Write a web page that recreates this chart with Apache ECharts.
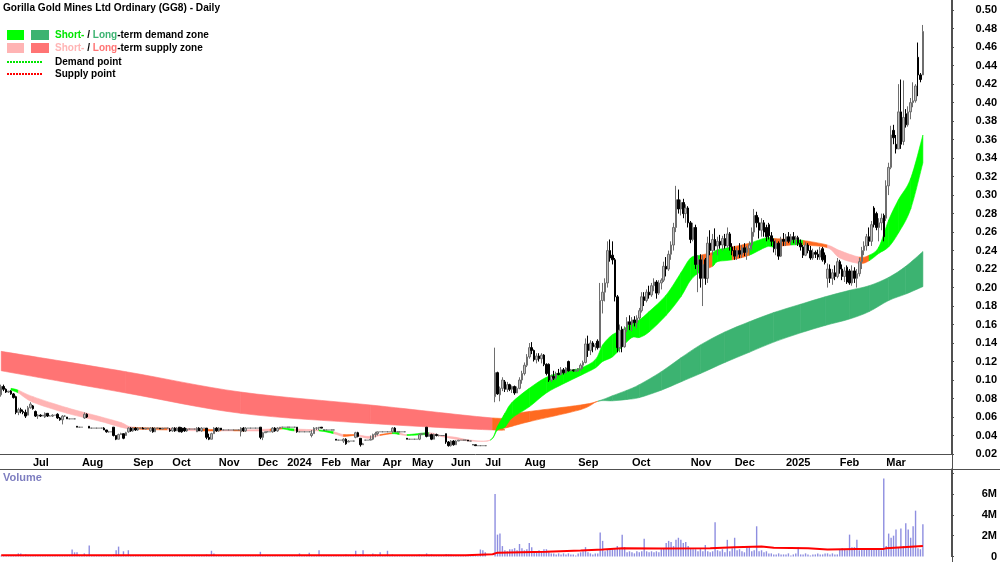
<!DOCTYPE html>
<html><head><meta charset="utf-8">
<script src="https://cdn.jsdelivr.net/npm/echarts@6/dist/echarts.min.js"></script>
<style>html,body{margin:0;padding:0;background:#fff}#c{width:1000px;height:562px}</style>
</head><body><div id="c"></div>
<script>
// ---------- DATA ----------
const title = 'Gorilla Gold Mines Ltd Ordinary (GG8) - Daily';
// month label shown at first bar of each month; bars per month (traded slots)
const monthNames = ['', 'Jul', 'Aug', 'Sep', 'Oct', 'Nov', 'Dec', '2024', 'Feb', 'Mar', 'Apr', 'May', 'Jun', 'Jul', 'Aug', 'Sep', 'Oct', 'Nov', 'Dec', '2025', 'Feb', 'Mar'];
const monthBars  = [13, 20, 21, 16, 19, 16, 12, 14, 12, 13, 12, 16, 14, 16, 22, 22, 24, 18, 21, 22, 19, 27];
const priceTicks = [0.02,0.04,0.06,0.08,0.10,0.12,0.14,0.16,0.18,0.20,0.22,0.24,0.26,0.28,0.30,0.32,0.34,0.36,0.38,0.40,0.42,0.44,0.46,0.48,0.50];
const volumeTicks = ['0', '2M', '4M', '6M'];
// candles: [open, high, low, close] in cents, one per bar slot
const candles = [
[8.4,9.5,8.2,9.3],[9.3,9.5,8.8,9.0],[9.0,9.1,8.6,8.7],[8.7,8.8,8.6,8.8],[8.8,8.9,8.4,8.5],[8.5,8.6,8.0,8.1],[8.2,8.3,6.3,6.5],[6.5,7.0,6.2,6.8],[6.8,7.0,6.4,6.6],[6.6,6.8,6.3,6.5],[6.5,6.8,5.9,6.1],[6.2,7.2,6.2,7.0],[7.0,7.6,6.9,7.4],
[7.2,7.3,6.8,6.9],[6.6,6.7,6.0,6.1],[6.1,6.3,5.8,6.2],[6.2,6.3,6.0,6.1],[6.1,6.2,6.1,6.2],[6.0,6.5,5.9,6.4],[6.4,6.4,6.0,6.1],[6.1,6.2,6.1,6.1],[6.1,6.3,6.0,6.2],[6.2,6.2,6.2,6.2],[6.3,6.4,5.8,5.9],[5.9,6.0,5.6,5.7],[5.7,6.2,5.2,6.1],[6.1,6.2,6.0,6.1],[6.0,6.0,5.8,5.8],[5.8,5.8,5.8,5.8],[5.8,5.8,5.8,5.8],[5.8,5.8,5.8,5.8],[5.0,5.0,4.9,4.9],[4.9,4.9,4.9,4.9],
[4.9,4.9,4.9,4.9],[5.9,6.5,5.8,6.3],[6.3,6.4,5.9,6.0],[5.0,5.0,4.8,4.8],[4.8,4.8,4.8,4.8],[4.8,4.8,4.8,4.8],[4.8,4.8,4.8,4.8],[4.8,4.8,4.8,4.8],[4.8,4.8,4.8,4.8],[4.8,4.9,4.6,4.6],[4.6,4.6,4.3,4.4],[4.4,4.5,4.3,4.4],[4.4,4.4,4.4,4.4],[4.9,4.9,3.9,4.0],[4.0,4.0,3.5,3.6],[3.6,4.2,3.6,4.1],[4.1,4.3,4.1,4.2],[4.2,4.2,3.6,3.7],[4.0,4.4,4.0,4.3],[4.4,4.9,4.3,4.8],[4.8,4.9,4.4,4.5],
[4.5,4.9,4.4,4.8],[4.8,4.9,4.5,4.6],[4.6,4.9,4.5,4.8],[4.8,4.8,4.8,4.8],[4.8,4.9,4.7,4.7],[4.7,4.8,4.7,4.8],[4.8,4.8,4.8,4.8],[4.5,4.9,4.4,4.8],[4.8,4.9,4.3,4.4],[4.4,4.9,4.4,4.8],[4.8,4.8,4.8,4.8],[4.8,4.8,4.7,4.7],[4.7,4.8,4.7,4.8],[4.8,4.8,4.8,4.8],[4.8,4.8,4.8,4.8],[4.6,4.8,4.4,4.5],
[4.5,4.9,4.4,4.8],[4.8,4.9,4.4,4.5],[4.5,4.9,4.5,4.8],[4.9,4.9,4.4,4.4],[4.8,4.9,4.3,4.4],[4.8,4.9,4.4,4.5],[4.5,4.8,4.4,4.7],[4.7,4.7,4.7,4.7],[4.7,4.7,4.7,4.7],[4.7,4.7,4.7,4.7],[4.4,4.9,4.4,4.8],[4.8,4.9,4.5,4.5],[4.5,4.9,4.4,4.8],[4.8,4.8,4.8,4.8],[4.8,4.8,3.6,3.8],[3.8,4.2,3.5,3.6],[3.6,4.3,3.6,4.2],[4.2,4.9,4.2,4.8],[4.8,4.9,4.4,4.5],
[4.5,4.9,4.4,4.8],[4.8,4.8,4.6,4.6],[4.6,4.6,4.6,4.6],[4.6,4.6,4.6,4.6],[4.6,4.6,4.6,4.6],[4.6,4.6,4.6,4.6],[4.6,4.6,4.6,4.6],[4.6,4.6,4.6,4.6],[4.6,4.6,4.6,4.6],[4.4,4.9,3.9,4.8],[4.8,4.9,4.4,4.5],[4.5,4.9,4.4,4.8],[4.8,4.8,4.8,4.8],[4.8,4.8,4.8,4.8],[4.8,4.8,4.8,4.8],[4.8,4.8,4.8,4.8],
[4.8,4.8,4.8,4.8],[4.9,4.9,3.6,3.8],[3.8,4.4,3.5,4.3],[4.3,4.4,4.3,4.4],[4.4,4.4,4.4,4.4],[4.4,4.4,4.4,4.4],[4.4,4.9,4.3,4.8],[4.8,4.9,4.4,4.5],[4.5,4.9,4.4,4.8],[4.8,4.9,4.7,4.9],[4.9,4.9,4.9,4.9],[4.9,4.9,4.9,4.9],
[4.9,4.9,4.9,4.9],[4.9,4.9,4.9,4.9],[4.9,4.9,4.9,4.9],[4.9,4.9,4.9,4.9],[4.9,4.9,4.3,4.4],[4.4,4.4,4.4,4.4],[4.4,4.4,4.4,4.4],[4.4,4.4,4.4,4.4],[4.4,4.4,4.4,4.4],[4.4,4.4,4.4,4.4],[4.0,4.6,3.8,4.2],[4.2,4.9,4.2,4.8],[4.8,4.9,4.6,4.8],[4.8,4.9,4.6,4.9],
[4.9,4.9,4.8,4.8],[4.6,4.6,4.6,4.6],[4.6,4.6,4.6,4.6],[4.6,4.6,4.6,4.6],[4.6,4.6,4.6,4.6],[4.6,4.6,4.6,4.6],[3.6,3.6,3.5,3.5],[3.5,3.5,3.5,3.5],[3.5,3.5,3.5,3.5],[3.4,3.7,3.2,3.6],[3.6,3.7,3.0,3.1],[3.3,3.5,3.3,3.4],
[3.4,3.4,3.4,3.4],[3.4,3.4,3.4,3.4],[3.8,4.4,3.7,4.3],[4.3,4.4,3.8,3.9],[3.7,3.7,2.8,3.0],[3.0,3.2,3.0,3.1],[3.5,3.5,3.5,3.5],[3.5,3.5,3.5,3.5],[3.5,4.0,3.5,3.6],[3.6,4.2,3.5,4.1],[4.1,4.4,3.8,4.2],[4.2,4.4,4.0,4.4],[4.4,4.4,4.4,4.4],
[4.4,4.4,4.4,4.4],[4.4,4.4,4.4,4.4],[4.4,4.4,4.4,4.4],[4.4,4.4,4.4,4.4],[4.4,4.9,4.3,4.8],[4.8,4.9,4.4,4.4],[4.4,4.4,4.4,4.4],[4.4,4.4,4.4,4.4],[4.4,4.4,4.4,4.4],[4.4,4.4,4.4,4.4],[3.7,3.7,3.6,3.6],[3.6,3.6,3.6,3.6],
[3.6,3.6,3.6,3.6],[3.6,3.6,3.6,3.6],[3.6,3.6,3.6,3.6],[3.6,4.2,3.5,4.1],[4.1,4.2,4.1,4.2],[4.2,4.2,4.2,4.2],[4.9,4.9,3.8,3.9],[3.9,4.2,3.9,4.1],[4.1,4.2,3.5,3.6],[3.6,4.2,3.6,4.1],[4.1,4.2,3.9,4.0],[4.0,4.1,3.9,4.0],[4.0,4.0,4.0,4.0],[4.0,4.0,4.0,4.0],[4.2,4.2,3.1,3.3],[3.3,3.4,2.8,2.9],
[2.9,3.5,2.8,3.4],[3.4,3.5,2.9,3.0],[3.0,3.5,3.0,3.4],[3.4,3.5,3.4,3.5],[3.5,3.5,3.5,3.5],[3.5,3.5,3.5,3.5],[3.5,3.5,3.5,3.5],[3.5,3.5,3.4,3.4],[3.4,3.4,3.4,3.4],[3.0,3.0,3.0,3.0],[3.0,3.0,2.9,2.9],[2.9,2.9,2.9,2.9],[2.9,2.9,2.9,2.9],[2.9,2.9,2.9,2.9],
[2.9,2.9,2.9,2.9],null,null,null,[8.2,13.5,7.6,10.8],[10.8,10.9,8.4,8.5],[8.4,9.3,7.7,9.1],[9.1,10.3,8.8,10.0],[9.8,10.0,8.7,9.0],[9.0,9.8,8.7,9.5],[9.5,9.6,8.8,9.0],[9.0,9.4,8.6,9.3],[9.3,9.4,8.4,8.6],[8.6,9.3,8.6,9.1],[9.1,10.3,9.0,10.0],[10.0,11.0,9.6,10.7],
[10.7,11.9,10.5,11.6],[11.6,12.8,11.4,12.5],[12.5,14.0,12.3,13.5],[13.5,14.1,12.8,13.2],[13.2,13.3,12.0,12.2],[12.2,12.9,11.8,12.6],[12.6,12.9,12.0,12.3],[12.3,12.9,11.8,12.7],[12.7,12.8,11.5,11.7],[11.7,11.8,10.5,10.7],[11.7,11.8,9.8,10.0],[10.0,10.6,9.8,10.4],[10.4,11.0,10.0,10.2],[10.2,10.9,10.0,10.7],[10.7,11.2,10.5,10.6],[10.6,11.4,10.5,11.1],[11.1,11.3,10.6,10.8],[10.8,11.4,10.7,11.3],[12.0,12.1,10.9,11.0],[11.0,11.2,11.0,11.1],[11.1,11.1,10.9,11.0],[11.0,11.2,10.9,11.0],
[11.0,11.3,10.9,11.2],[11.2,11.8,11.0,11.6],[11.6,12.1,11.2,11.9],[11.9,14.5,11.8,13.9],[13.9,14.8,12.5,13.2],[13.2,14.3,12.7,14.0],[14.0,14.2,13.0,13.6],[13.6,14.0,13.2,13.8],[14.2,14.4,13.3,13.5],[13.5,20.5,13.5,18.6],[18.6,20.5,17.2,19.5],[19.5,21.0,18.5,20.5],[20.5,25.0,20.0,24.0],[24.0,25.2,22.8,23.2],[23.5,25.0,22.5,23.0],[23.0,23.2,18.5,19.0],[19.0,19.2,13.0,13.5],[13.5,16.0,13.0,15.4],[15.5,15.8,13.0,13.6],[13.6,15.8,13.5,15.5],[15.5,16.8,15.2,16.3],[16.3,17.0,15.4,16.0],
[16.0,16.8,15.3,16.5],[16.5,16.9,15.8,16.2],[16.2,17.0,15.6,16.7],[16.7,17.8,16.5,17.5],[17.5,19.5,17.3,19.0],[19.0,19.5,18.0,18.6],[18.6,19.8,18.4,19.5],[19.5,20.2,18.8,19.2],[19.2,20.5,19.0,20.2],[20.2,21.0,19.6,20.6],[20.6,20.8,18.8,19.4],[19.4,20.8,19.2,20.5],[20.5,21.0,19.8,20.8],[20.8,22.8,20.6,22.3],[22.3,23.3,21.2,22.0],[22.0,24.0,21.8,23.6],[23.6,25.0,23.0,24.6],[24.6,27.0,24.0,26.5],[26.5,31.0,26.0,29.5],[29.5,30.6,28.0,28.5],[28.5,29.5,27.8,29.2],[29.2,29.6,27.5,28.0],[28.0,29.0,27.0,28.6],[28.6,28.8,26.5,27.0],
[27.0,27.2,24.8,25.2],[25.2,27.0,25.0,26.5],[26.5,26.8,22.0,22.5],[22.5,23.5,19.5,23.0],[23.0,23.6,20.0,21.0],[21.0,23.5,18.0,22.5],[23.0,23.2,20.3,21.0],[21.0,25.5,20.5,24.8],[24.8,26.2,23.5,24.0],[24.0,25.8,23.5,25.2],[25.2,26.4,24.0,24.5],[24.5,25.5,23.5,25.0],[25.0,25.7,24.2,24.6],[24.6,25.6,24.0,25.3],[25.3,25.8,24.2,24.5],[24.5,26.5,24.3,25.8],[25.8,26.0,24.0,24.4],[24.4,24.8,23.5,24.0],
[24.0,24.5,23.0,23.4],[23.4,24.3,23.0,24.0],[24.0,24.8,23.2,23.6],[23.6,24.6,23.2,24.3],[24.3,24.8,23.4,23.8],[23.8,24.5,23.0,24.2],[24.2,25.0,23.5,24.6],[24.6,26.5,24.0,26.0],[26.0,28.5,25.5,27.8],[27.8,28.2,26.5,27.0],[27.0,27.6,25.3,26.2],[26.2,27.5,25.5,27.0],[27.0,27.3,25.5,26.0],[26.5,26.8,25.0,25.5],[26.8,27.0,25.2,25.6],[25.6,26.0,24.5,25.0],[25.0,25.3,23.8,24.2],[24.2,25.2,23.5,24.8],[24.8,25.0,23.0,23.4],[23.4,25.5,23.3,25.2],[25.2,25.9,24.5,25.0],
[25.0,25.8,24.5,25.5],[25.5,26.0,24.8,25.0],[25.0,25.8,24.6,25.5],[25.5,26.0,24.8,25.2],[25.2,25.6,24.6,25.4],[25.4,25.6,24.5,24.8],[24.8,25.2,24.0,24.4],[24.4,24.6,23.2,23.5],[23.5,24.9,23.4,24.6],[24.6,24.8,23.7,24.0],[24.0,24.5,23.0,23.2],[23.2,24.2,23.0,23.8],[23.8,24.0,23.2,23.6],[23.6,24.1,23.0,23.3],[23.3,24.4,23.0,24.0],[24.2,24.4,22.8,23.0],[23.5,23.8,22.5,22.7],[21.0,22.6,20.0,22.0],[22.0,22.5,20.5,21.0],[21.0,22.0,20.3,21.6],[21.6,22.4,20.8,21.2],[21.2,23.2,21.0,22.8],
[22.8,23.0,21.5,22.0],[22.0,22.5,20.8,21.2],[21.2,22.2,20.6,21.8],[22.2,22.4,20.4,20.6],[21.8,22.0,20.3,20.5],[20.5,22.4,20.2,21.8],[21.8,22.2,20.5,21.0],[21.0,22.0,20.0,21.5],[21.5,23.2,21.2,22.8],[22.8,24.4,22.0,24.0],[24.0,25.0,23.5,24.5],[24.5,25.8,24.0,25.5],[25.5,26.5,24.5,25.0],[25.0,27.2,24.5,26.8],[28.6,28.8,26.5,26.8],[28.0,28.2,26.2,26.5],[26.5,27.5,25.0,27.0],[27.0,28.0,26.2,27.5],[27.8,28.0,25.0,25.5],
[27.5,31.6,27.2,31.0],[31.0,33.5,30.0,33.0],[33.0,37.5,32.8,36.5],[37.0,37.6,35.5,36.2],[35.5,36.5,34.5,35.0],[35.0,42.0,35.0,39.0],[39.0,42.5,35.0,35.5],[35.8,42.4,35.4,38.4],[38.8,39.3,37.3,37.6],[37.6,39.6,37.4,39.0],[39.0,40.5,38.2,40.0],[40.0,42.2,39.5,40.2],[40.2,42.0,40.0,41.8],[44.9,46.5,40.7,43.0],[43.0,43.2,42.2,42.5],[43.0,48.4,43.0,47.7]
];
// volume per slot, millions of shares
const volumes = [
0.1,0.05,0.1,0.05,0.1,0.05,0.1,0.3,0.3,0.05,0.2,0.05,0.1,
0.1,0.05,0.1,0.05,0.1,0.05,0.05,0.1,0.05,0.1,0.05,0.1,0.05,0.1,0.05,0.1,0.67,0.4,0.4,0.05,
0.05,0.3,0.05,1.05,0.05,0.05,0.1,0.05,0.05,0.1,0.1,0.05,0.05,0.2,0.6,0.95,0.1,0.5,0.1,0.6,0.1,
0.1,0.1,0.05,0.05,0.1,0.05,0.05,0.1,0.1,0.1,0.05,0.05,0.1,0.05,0.05,0.1,
0.1,0.1,0.05,0.1,0.1,0.1,0.05,0.05,0.05,0.05,0.1,0.05,0.1,0.05,0.2,0.1,0.55,0.3,0.1,
0.1,0.05,0.05,0.05,0.05,0.05,0.05,0.05,0.05,0.1,0.1,0.1,0.05,0.05,0.05,0.05,
0.05,0.45,0.1,0.05,0.05,0.05,0.1,0.1,0.1,0.05,0.05,0.05,
0.05,0.05,0.05,0.05,0.1,0.3,0.05,0.05,0.05,0.35,0.1,0.1,0.1,0.6,
0.1,0.05,0.05,0.05,0.05,0.05,0.1,0.05,0.05,0.1,0.2,0.1,
0.05,0.05,0.55,0.1,0.2,0.6,0.05,0.05,0.1,0.3,0.2,0.1,0.4,
0.05,0.1,0.55,0.05,0.2,0.1,0.05,0.05,0.05,0.05,0.1,0.05,
0.05,0.05,0.05,0.2,0.1,0.05,0.3,0.1,0.2,0.15,0.1,0.05,0.05,0.05,0.25,0.2,
0.2,0.15,0.1,0.05,0.05,0.05,0.05,0.1,0.05,0.1,0.1,0.05,0.67,0.6,
0.4,null,null,null,6.0,2.1,2.2,1.0,0.6,0.5,0.7,0.7,0.8,0.6,1.2,0.8,
0.6,0.7,1.3,0.9,0.5,0.4,0.6,0.5,0.7,0.7,0.4,0.3,0.3,0.2,0.3,0.2,0.3,0.2,0.3,0.2,0.2,0.1,
0.3,0.4,0.5,0.9,0.4,0.3,0.2,0.3,0.3,2.3,1.5,0.5,0.7,0.7,0.7,0.7,1.0,0.8,2.1,0.9,0.4,0.5,
0.4,0.3,0.5,0.4,0.5,1.7,0.5,0.4,0.5,0.4,0.5,0.4,0.7,0.8,1.3,1.5,1.4,1.0,1.6,1.8,1.6,1.3,1.4,1.0,
0.8,0.7,0.7,0.5,0.8,0.5,1.1,0.5,0.4,0.5,3.3,0.6,0.5,0.7,0.4,1.6,0.5,0.8,
1.8,0.6,0.7,0.5,0.4,0.9,0.9,0.5,0.6,2.9,0.5,0.6,0.4,0.5,0.3,0.3,0.2,0.2,0.3,0.2,0.2,
0.2,0.3,0.1,0.2,0.3,0.9,0.2,0.2,0.3,0.2,0.1,0.2,0.2,0.3,0.2,0.2,0.3,0.3,0.2,0.3,0.2,0.2,
0.7,0.8,0.7,0.6,2.1,0.9,0.9,1.6,0.6,0.8,0.8,0.7,0.8,0.8,0.7,0.8,0.8,0.6,7.5,
1.0,2.2,1.8,2.0,2.6,0.9,2.7,1.0,3.2,2.6,1.8,2.9,4.4,0.8,0.7,3.1
];
// volume moving average, [slot, millions]
const volumeAverage = [[0,0.12],[190,0.13],[201,0.22],[203,0.37],[223,0.45],[237,0.57],[246,0.67],[254,0.8],[270,0.78],[290,0.8],[300,0.88],[311,0.95],[316,0.85],[330,0.8],[338,0.67],[350,0.72],[361,0.73],[362,0.8],[377,1.0]];
// zones: [slot, lower, upper (cents), zone type of the stretch that starts here]
const longTermZone = [
[0,11.0,13.1,'R'],[51,8.6,10.9,'R'],[98,6.4,8.7,'R'],[151,5.3,7.3,'R'],[201,4.6,5.9,'O'],[206,4.8,6.2,'O'],[216,5.5,6.6,'O'],[237,6.8,7.3,'O'],
[244,7.7,7.7,'D'],[250,7.75,8.3,'D'],[256,7.9,8.9,'D'],[261,8.1,9.5,'D'],[270,8.9,10.9,'D'],[278,9.8,12.4,'D'],[286,10.7,13.8,'D'],[296,11.9,15.2,'D'],[306,13.0,16.3,'D'],[316,14.1,17.3,'D'],[327,15.1,18.2,'D'],[337,15.9,19.0,'D'],[347,16.6,19.7,'D'],[355,17.4,20.2,'D'],[363,18.6,21.1,'D'],[370,19.3,22.3,'D'],[377,20.1,23.9,'D']
];
const shortTermZone = [
[4,8.9,9.1,'G'],[7,8.6,8.9,'P'],[13,7.6,8.2,'P'],[27,6.4,7.0,'P'],[41,5.5,6.0,'P'],[49,4.9,5.4,'P'],[54,4.7,4.9,'O'],[68,4.6,4.8,'P'],[82,4.5,4.7,'O'],[90,4.5,4.6,'P'],[95,4.5,4.6,'O'],[100,4.5,4.6,'P'],[110,4.5,4.7,'O'],[115,4.7,4.8,'G'],[120,4.5,4.7,'P'],[130,4.5,4.6,'G'],[136,4.2,4.4,'P'],[140,3.9,4.1,'O'],[145,4.0,4.1,'P'],[150,3.7,3.9,'P'],[155,4.0,4.1,'O'],[160,4.2,4.3,'G'],[163,4.1,4.3,'P'],[166,4.0,4.1,'G'],[175,4.1,4.3,'P'],[180,3.9,4.0,'P'],[186,3.6,3.8,'P'],[192,3.4,3.5,'P'],[200,3.5,3.5,'G'],
[203,4.6,5.0,'G'],[206,4.9,6.4,'G'],[209,5.9,7.6,'G'],[216,7.1,9.1,'G'],[223,8.6,10.3,'G'],[230,9.6,10.9,'G'],[237,10.5,11.3,'G'],[243,11.3,12.2,'G'],[246,12.0,13.8,'G'],[250,12.5,14.9,'G'],[254,13.6,15.4,'G'],[258,14.6,16.2,'G'],[261,14.6,16.5,'G'],[265,15.2,17.4,'G'],[272,17.0,19.2,'G'],[278,19.0,21.6,'G'],[282,20.8,23.2,'G'],[286,21.7,23.5,'O'],[291,22.3,23.8,'G'],[293,22.8,24.1,'G'],[299,23.0,24.4,'O'],[306,23.5,24.8,'G'],[313,24.4,25.4,'G'],[316,24.4,25.3,'O'],[323,24.6,25.2,'G'],[328,24.6,25.1,'O'],[338,24.3,24.6,'P'],[343,23.2,24.0,'P'],[351,22.6,23.3,'O'],[355,22.9,23.5,'G'],[359,23.7,24.4,'G'],[363,24.4,27.3,'G'],[367,25.9,29.5,'G'],[372,28.5,31.8,'G'],[377,33.5,36.5,'G']
];
// ---------- BUILD ----------
const zoneColors = {G:'#00ff00', D:'#3cb371', P:'#ffb4b4', R:'#ff7474', O:'#ff6a20'};
const labelAt = [];
monthBars.forEach((n, m) => { for (let k = 0; k < n; k++) labelAt.push(k === 0 ? monthNames[m] : ''); });
const cats = labelAt.map((_, i) => String(i));
const candleData = candles.map(c => c ? [c[0], c[3], c[2], c[1]] : ['-','-','-','-']);
const FONT = '"Liberation Sans", Arial, sans-serif';
const legendFont = 'bold 10px ' + FONT;

// zone drawn as smooth (Catmull-Rom style) ribbons between the read points
function zoneSeries(pts, z) {
  return {
    type: 'custom', xAxisIndex: 0, yAxisIndex: 0, z: z, silent: true,
    data: pts.map(p => [p[0], p[1], p[2]]),
    encode: {x: 0, y: [1, 2]},
    renderItem: function (params, api) {
      const i = params.dataIndex;
      const a = pts[i], b = pts[i + 1];
      if (!b) return null;
      const p = pts[i - 1] || a, n = pts[i + 2] || b;
      const col = zoneColors[a[3]];
      const edge = (k) => {
        const P0 = api.coord([p[0], p[k]]), P1 = api.coord([a[0], a[k]]), P2 = api.coord([b[0], b[k]]), P3 = api.coord([n[0], n[k]]);
        const c1 = [P1[0] + (P2[0] - P0[0]) / 6, P1[1] + (P2[1] - P0[1]) / 6];
        const c2 = [P2[0] - (P3[0] - P1[0]) / 6, P2[1] - (P3[1] - P1[1]) / 6];
        return [P1, c1, c2, P2];
      };
      const u = edge(2), l = edge(1);
      const f = (q) => q[0].toFixed(2) + ' ' + q[1].toFixed(2);
      const d = 'M' + f(u[0]) + ' C' + f(u[1]) + ' ' + f(u[2]) + ' ' + f(u[3]) +
                ' L' + f(l[3]) + ' C' + f(l[2]) + ' ' + f(l[1]) + ' ' + f(l[0]) + ' Z';
      return {type: 'path', shape: {pathData: d}, style: {fill: col, stroke: col, lineWidth: 0.6}};
    }
  };
}
const tickShown = (i) => labelAt[i] !== '';
const chart = echarts.init(document.getElementById('c'), null, {renderer: 'canvas'});
chart.setOption({
  animation: false,
  backgroundColor: '#ffffff',
  grid: [
    {left: 0, right: 48, top: 0, bottom: 108},
    {left: 0, right: 48, top: 469, bottom: 5}
  ],
  xAxis: [
    {type: 'category', gridIndex: 0, data: cats, boundaryGap: true,
     axisLine: {lineStyle: {color: '#505050', width: 1}},
     axisTick: {interval: tickShown, length: 4, lineStyle: {color: '#505050'}},
     axisLabel: {interval: tickShown, formatter: (v, i) => labelAt[i], align: 'left', margin: 3,
       fontFamily: FONT, fontWeight: 'bold', fontSize: 11, color: '#000'},
     splitLine: {show: false}},
    {type: 'category', gridIndex: 1, data: cats, boundaryGap: true,
     axisLine: {show: false}, axisTick: {show: false}, axisLabel: {show: false}, splitLine: {show: false}}
  ],
  yAxis: [
    {type: 'value', gridIndex: 0, position: 'right', min: priceTicks[0] * 100, max: 51.1, interval: 2,
     axisLine: {show: true, lineStyle: {color: '#505050'}},
     axisTick: {show: true, length: 3, lineStyle: {color: '#505050'}},
     splitLine: {show: false},
     axisLabel: {showMaxLabel: false, align: 'right', margin: 46, fontFamily: FONT, fontWeight: 'bold', fontSize: 11, color: '#000',
       formatter: v => { const t = priceTicks.find(p => Math.abs(p * 100 - v) < 1e-6); return t === undefined ? '' : t.toFixed(2); }}},
    {type: 'value', gridIndex: 1, position: 'right', min: 0, max: 8.4, interval: 2,
     axisLine: {show: true, lineStyle: {color: '#505050'}},
     axisTick: {show: true, length: 3, lineStyle: {color: '#505050'}},
     splitLine: {show: false},
     axisLabel: {showMaxLabel: false, align: 'right', margin: 46, fontFamily: FONT, fontWeight: 'bold', fontSize: 11, color: '#000',
       formatter: v => { const k = Math.round(v / 2); return (Math.abs(v - k * 2) < 1e-6 && volumeTicks[k] !== undefined) ? volumeTicks[k] : ''; }}}
  ],
  series: [
    zoneSeries(longTermZone, 1),
    zoneSeries(shortTermZone, 1),
    {type: 'candlestick', xAxisIndex: 0, yAxisIndex: 0, z: 3, data: candleData, barWidth: 2,
     itemStyle: {color: '#bdbdbd', color0: '#000000', borderColor: '#6e6e6e', borderColor0: '#000000', borderWidth: 1}},
    {type: 'bar', xAxisIndex: 1, yAxisIndex: 1, data: volumes, barWidth: 1.4, itemStyle: {color: '#8e8ee0'}, z: 2},
    {type: 'line', xAxisIndex: 1, yAxisIndex: 1, data: volumeAverage, showSymbol: false, symbol: 'none',
     lineStyle: {color: '#ff0000', width: 2}, z: 3}
  ],
  graphic: [
    {type: 'line', shape: {x1: 0, y1: 469.5, x2: 1000, y2: 469.5}, style: {stroke: '#505050', lineWidth: 1}},
    {type: 'line', shape: {x1: 952.5, y1: 0, x2: 952.5, y2: 562}, style: {stroke: '#505050', lineWidth: 1}},
    {type: 'text', x: 3, y: 8, scaleX: 0.92, style: {text: title, fill: '#000', font: 'bold 11px ' + FONT, verticalAlign: 'middle'}},
    {type: 'rect', shape: {x: 7, y: 30, width: 17, height: 10}, style: {fill: zoneColors.G}},
    {type: 'rect', shape: {x: 31, y: 30, width: 18, height: 10}, style: {fill: zoneColors.D}},
    {type: 'text', x: 55, y: 35.5, style: {text: '{a|Short-} / {b|Long}-term demand zone', fill: '#000', font: legendFont, verticalAlign: 'middle',
      rich: {a: {fill: '#00e600', font: legendFont}, b: {fill: zoneColors.D, font: legendFont}}}},
    {type: 'rect', shape: {x: 7, y: 43, width: 17, height: 10}, style: {fill: zoneColors.P}},
    {type: 'rect', shape: {x: 31, y: 43, width: 18, height: 10}, style: {fill: zoneColors.R}},
    {type: 'text', x: 55, y: 48.5, style: {text: '{a|Short-} / {b|Long}-term supply zone', fill: '#000', font: legendFont, verticalAlign: 'middle',
      rich: {a: {fill: zoneColors.P, font: legendFont}, b: {fill: zoneColors.R, font: legendFont}}}},
    {type: 'line', shape: {x1: 7, y1: 62, x2: 43, y2: 62}, style: {stroke: '#00e600', lineWidth: 2, lineDash: [2, 1]}},
    {type: 'text', x: 55, y: 62, style: {text: 'Demand point', fill: '#000', font: legendFont, verticalAlign: 'middle'}},
    {type: 'line', shape: {x1: 7, y1: 74, x2: 43, y2: 74}, style: {stroke: '#ff0000', lineWidth: 2, lineDash: [2, 1]}},
    {type: 'text', x: 55, y: 74, style: {text: 'Supply point', fill: '#000', font: legendFont, verticalAlign: 'middle'}},
    {type: 'text', x: 3, y: 478, style: {text: 'Volume', fill: '#7e7ec0', font: 'bold 11px ' + FONT, verticalAlign: 'middle'}}
  ]
});
</script>
</body></html>
